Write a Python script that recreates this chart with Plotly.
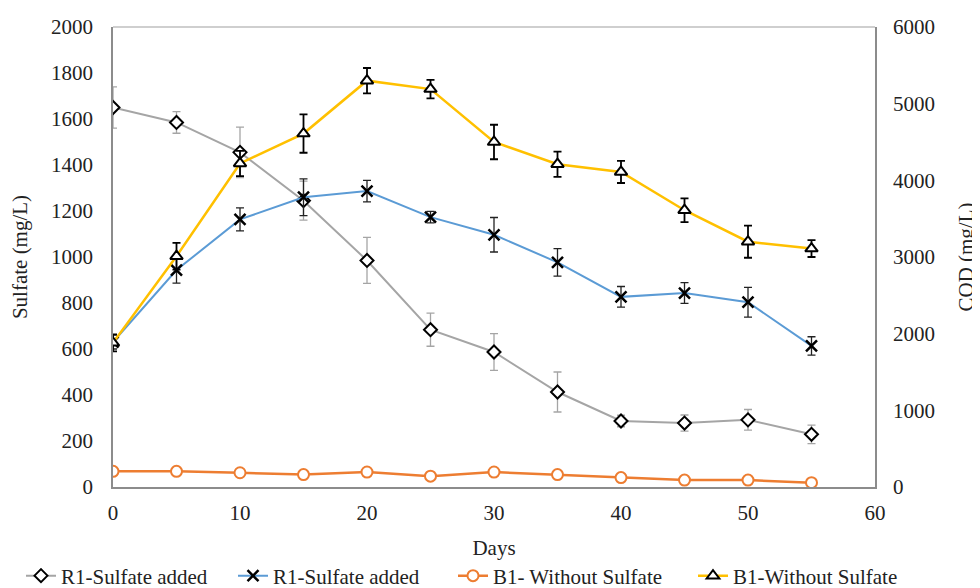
import plotly.graph_objects as go

days = [0, 5, 10, 15, 20, 25, 30, 35, 40, 45, 50, 55]

# R1 - sulfate (mg/L), left axis
r1_sulfate = [1650, 1585, 1455, 1245, 985, 684, 587, 413, 287, 278, 292, 229]
r1_sulfate_err = [90, 47, 110, 85, 100, 72, 80, 87, 25, 35, 45, 40]

# R1 - COD (mg/L), right axis
r1_cod = [1890, 2830, 3490, 3780, 3860, 3520, 3290, 2930, 2480, 2530, 2410, 1840]
r1_cod_err = [90, 170, 150, 240, 140, 75, 225, 180, 135, 135, 195, 120]

# B1 - sulfate (mg/L), left axis
b1_sulfate = [68, 68, 62, 54, 65, 47, 65, 54, 41, 30, 30, 19]

# B1 - COD (mg/L), right axis
b1_cod = [1880, 3010, 4220, 4610, 5300, 5190, 4500, 4210, 4110, 3610, 3200, 3110]
b1_cod_err = [110, 175, 165, 250, 165, 120, 225, 165, 145, 155, 210, 110]

names = ["R1-Sulfate added", "R1-Sulfate added", "B1- Without Sulfate", "B1-Without Sulfate"]

FONT = "Liberation Serif"
TXT = "#222222"

fig = go.Figure()

fig.add_trace(go.Scatter(
    x=days, y=r1_sulfate, name=names[0], mode="lines+markers", legend="legend",
    line=dict(color="#A5A5A5", width=2),
    marker=dict(symbol="diamond", size=10, color="white", line=dict(color="black", width=2)),
    error_y=dict(type="data", array=r1_sulfate_err, color="#A5A5A5", thickness=1.3, width=4),
))
fig.add_trace(go.Scatter(
    x=days, y=r1_cod, name=names[1], mode="lines+markers", yaxis="y2", legend="legend2",
    line=dict(color="#5B9BD5", width=2),
    marker=dict(symbol="x-thin", size=11, color="black", line=dict(color="black", width=2.5)),
    error_y=dict(type="data", array=r1_cod_err, color="#222222", thickness=1.3, width=4),
))
fig.add_trace(go.Scatter(
    x=days, y=b1_sulfate, name=names[2], mode="lines+markers", legend="legend3",
    line=dict(color="#ED7D31", width=2.5),
    marker=dict(symbol="circle", size=11, color="white", line=dict(color="#ED7D31", width=2)),
))
fig.add_trace(go.Scatter(
    x=days, y=b1_cod, name=names[3], mode="lines+markers", yaxis="y2", legend="legend4",
    line=dict(color="#FFC000", width=2.5),
    marker=dict(symbol="triangle-up", size=11, color="white", line=dict(color="black", width=2)),
    error_y=dict(type="data", array=b1_cod_err, color="black", thickness=1.8, width=4),
))

# page body has an 8px margin, so the figure is sized/offset to compensate
OFF = 8
W, H = 980 - OFF, 588 - OFF
L, R, T, B = 113 - OFF, 980 - 875, 27 - OFF, 588 - 487
PW = W - L - R
PH = H - T - B


def px_x(p):
    return (p - OFF - L) / PW


def px_y(p):
    return (H - B - (p - OFF)) / PH


leg_common = dict(orientation="h", xanchor="left", yanchor="middle",
                  font=dict(family=FONT, size=21, color=TXT), bgcolor="rgba(0,0,0,0)",
                  itemwidth=30)

fig.update_layout(
    width=W, height=H,
    margin=dict(l=L, r=R, t=T, b=B, autoexpand=False),
    paper_bgcolor="white", plot_bgcolor="white",
    font=dict(family=FONT, size=21, color=TXT),
    showlegend=True,
    legend=dict(x=px_x(21), y=px_y(576), **leg_common),
    legend2=dict(x=px_x(233), y=px_y(576), **leg_common),
    legend3=dict(x=px_x(453), y=px_y(576), **leg_common),
    legend4=dict(x=px_x(693), y=px_y(576), **leg_common),
    xaxis=dict(range=[0, 60], tickvals=[0, 10, 20, 30, 40, 50, 60], showgrid=False, zeroline=False,
               automargin=False,
               showline=True, linecolor="#8C8C8C", linewidth=1.5, ticks="", ticklabelstandoff=6,
               title=dict(text="Days", font=dict(size=21), standoff=16)),
    yaxis=dict(range=[0, 2000], tickvals=list(range(0, 2001, 200)), showgrid=False, zeroline=False,
               automargin=False,
               showline=True, linecolor="#8C8C8C", linewidth=1.5, ticks="", ticklabelstandoff=14,
               title=dict(text="Sulfate (mg/L)", font=dict(size=21), standoff=18)),
    yaxis2=dict(range=[0, 6000], tickvals=list(range(0, 6001, 1000)), overlaying="y", side="right",
                automargin=False,
                showgrid=False, zeroline=False, showline=True, linecolor="#8C8C8C", linewidth=1.5,
                ticks="", ticklabelstandoff=12,
                title=dict(text="COD (mg/L)", font=dict(size=21), standoff=24)),
    shapes=[dict(type="line", xref="paper", yref="paper", x0=0, x1=1, y0=1, y1=1,
                 line=dict(color="#BFBFBF", width=1.5))],
)

fig.write_html("out.html")
